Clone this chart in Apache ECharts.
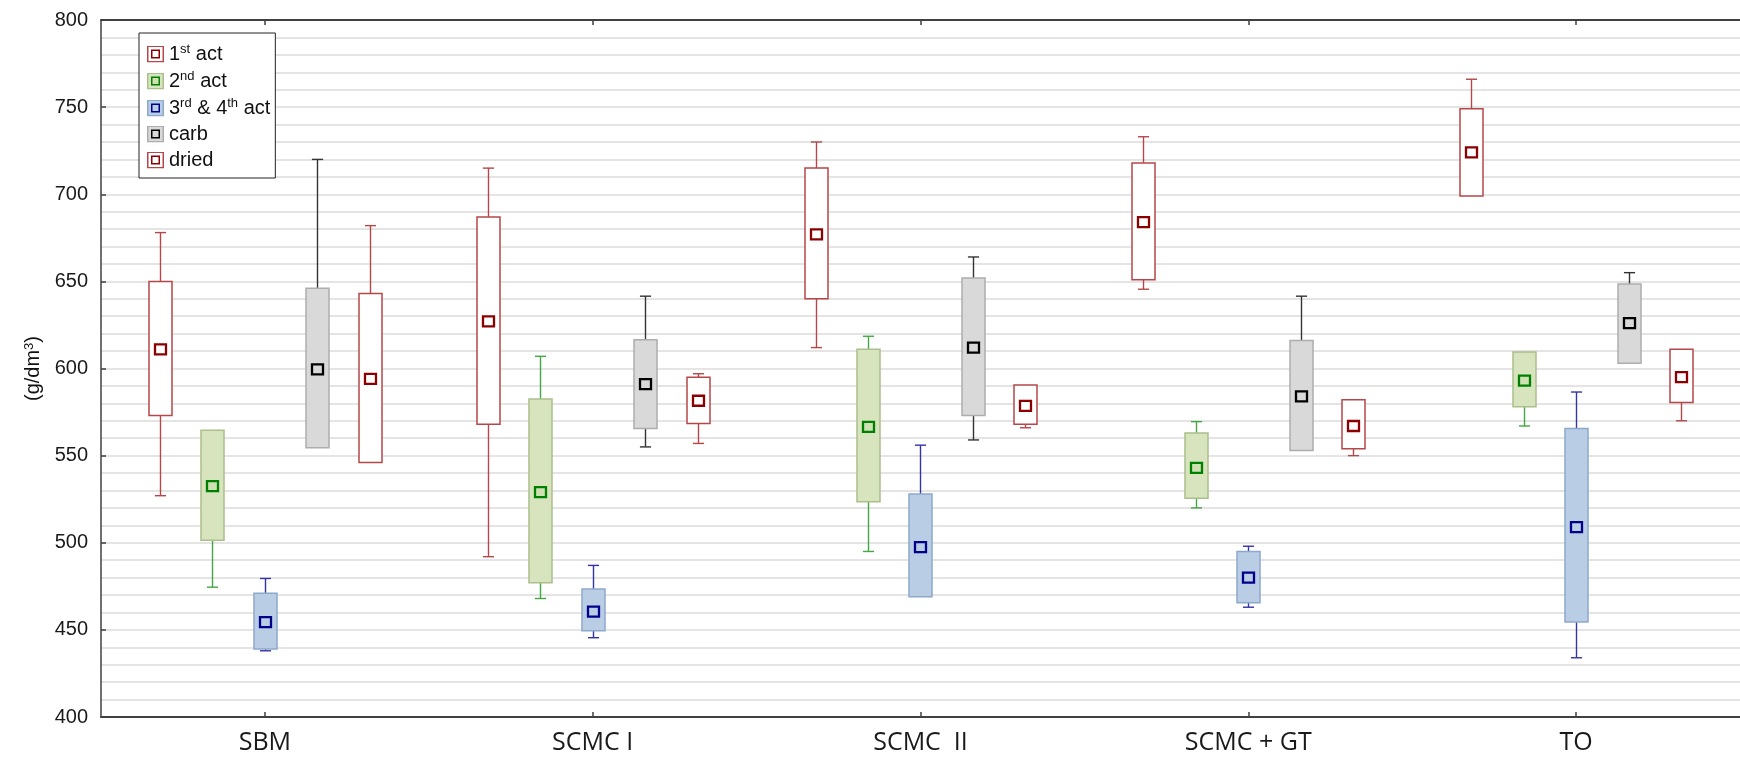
<!DOCTYPE html>
<html>
<head>
<meta charset="utf-8">
<script src="https://cdn.jsdelivr.net/npm/echarts@6/dist/echarts.min.js"></script>
<style>
html,body{margin:0;padding:0;background:#fff;}
#chart{width:1740px;height:765px;}
</style>
</head>
<body>
<div id="chart"></div>
<script>
// ---- data (each row: [lower whisker, box low, mean, box high, upper whisker]) ----
const categories = ['SBM', 'SCMC I', 'SCMC  II', 'SCMC + GT', 'TO'];
const seriesNames = ['1st act', '2nd act', '3rd & 4th act', 'carb', 'dried'];
const act1 = [
  [527, 573, 611, 650, 678],
  [492, 568, 627, 687, 715],
  [612, 640, 677, 715, 730],
  [645.5, 651, 684, 718, 733],
  [699, 699, 724, 749, 766]
];
const act2 = [
  [474.5, 501.5, 532.5, 564.5, 564.5],
  [468, 477, 529, 582.5, 607],
  [495, 523.5, 566.5, 611, 618.5],
  [520, 525.5, 543, 563, 569.5],
  [567, 578, 593, 609.5, 609.5]
];
const act34 = [
  [438, 439, 454.5, 471, 479.5],
  [445.5, 449.5, 460.5, 473.5, 487],
  [469, 469, 497.5, 528, 556],
  [463, 465.5, 480, 495, 498],
  [434, 454.5, 509, 565.5, 586.5]
];
const carb = [
  [554.5, 554.5, 599.5, 646, 720],
  [555, 565.5, 591, 616.5, 641.5],
  [559, 573, 612, 652, 664],
  [553, 553, 584, 616, 641.5],
  [603, 603, 626, 648.5, 655]
];
const dried = [
  [546, 546, 594, 643, 682],
  [557, 568.5, 581.5, 595, 597],
  [566, 568, 578.5, 590.5, 590.5],
  [550, 554, 567, 582, 582],
  [570, 580.5, 595, 611, 611]
];
const yTicks = {min: 400, max: 800, interval: 50};

// ---- styles ----
const allData = [act1, act2, act34, carb, dried];
const STYLES = [
  {fill: '#ffffff', stroke: '#b5474a', whisker: '#b5474a', mFill: '#ffffff', mStroke: '#8b0000'},
  {fill: '#d7e4bd', stroke: '#abbf8c', whisker: '#43a843', mFill: '#cfe0b2', mStroke: '#008000'},
  {fill: '#b9cde5', stroke: '#8ea8cc', whisker: '#3434a8', mFill: '#b9cde5', mStroke: '#00008b'},
  {fill: '#d9d9d9', stroke: '#adadad', whisker: '#333333', mFill: '#d9d9d9', mStroke: '#000000'},
  {fill: '#ffffff', stroke: '#b5474a', whisker: '#b5474a', mFill: '#ffffff', mStroke: '#8b0000'}
];
const OFFSETS = [-0.32, -0.16, 0, 0.16, 0.32];
const LEGEND_RICH = {
  '1st act': '{n|1}{s|st}{n| act}',
  '2nd act': '{n|2}{s|nd}{n| act}',
  '3rd & 4th act': '{n|3}{s|rd}{n| & 4}{s|th}{n| act}',
  'carb': '{n|carb}',
  'dried': '{n|dried}'
};
const FONT = 'Liberation Sans, Arial, sans-serif';

function iconFor(st) {
  const svg = '<svg xmlns="http://www.w3.org/2000/svg" width="17" height="17" viewBox="0 0 17 17">' +
    '<rect x="0.75" y="0.75" width="15.5" height="15.5" fill="' + st.fill + '" stroke="' + st.stroke + '" stroke-width="1.5"/>' +
    '<rect x="4.75" y="4.75" width="7.5" height="7.5" fill="' + st.mFill + '" stroke="' + st.mStroke + '" stroke-width="1.5"/>' +
    '</svg>';
  return 'image://data:image/svg+xml;charset=utf-8,' + encodeURIComponent(svg);
}

function makeRender(k) {
  const st = STYLES[k];
  return function (params, api) {
    const cat = api.value(0);
    const lo = api.value(1), q1 = api.value(2), m = api.value(3), q3 = api.value(4), hi = api.value(5);
    const bw = api.size([1, 0])[0];
    const cx = Math.round(api.coord([cat, m])[0] + OFFSETS[k] * bw) + 0.5;
    const yLo = api.coord([cat, lo])[1];
    const yQ1 = api.coord([cat, q1])[1];
    const yM = api.coord([cat, m])[1];
    const yQ3 = api.coord([cat, q3])[1];
    const yHi = api.coord([cat, hi])[1];
    const w = Math.round(bw * 0.07);
    const cap = bw * 0.034;
    const children = [];
    const wStyle = {stroke: st.whisker, lineWidth: 1.4};
    if (hi > q3) {
      children.push({type: 'line', shape: {x1: cx, y1: yHi, x2: cx, y2: yQ3}, style: wStyle});
      children.push({type: 'line', shape: {x1: cx - cap / 2, y1: yHi, x2: cx + cap / 2, y2: yHi}, style: wStyle});
    }
    if (lo < q1) {
      children.push({type: 'line', shape: {x1: cx, y1: yQ1, x2: cx, y2: yLo}, style: wStyle});
      children.push({type: 'line', shape: {x1: cx - cap / 2, y1: yLo, x2: cx + cap / 2, y2: yLo}, style: wStyle});
    }
    children.push({
      type: 'rect',
      shape: {x: cx - w / 2, y: yQ3, width: w, height: yQ1 - yQ3},
      style: {fill: st.fill, stroke: st.stroke, lineWidth: 1.5}
    });
    children.push({
      type: 'rect',
      shape: {x: cx - 5.5, y: yM - 5, width: 11, height: 10},
      style: {fill: st.mFill, stroke: st.mStroke, lineWidth: 2.3}
    });
    return {type: 'group', children: children};
  };
}

const series = allData.map(function (rows, k) {
  return {
    type: 'custom',
    name: seriesNames[k],
    renderItem: makeRender(k),
    encode: {x: 0, y: [1, 2, 3, 4, 5]},
    data: rows.map(function (r, i) { return [i].concat(r); }),
    z: 3
  };
});

const chart = echarts.init(document.getElementById('chart'), null, {renderer: 'canvas'});
chart.setOption({
  animation: false,
  backgroundColor: '#ffffff',
  grid: {left: 101, right: 0, top: 20, bottom: 48, containLabel: false},
  legend: {
    orient: 'vertical',
    left: 139,
    top: 33,
    padding: [10, 5, 8, 8],
    itemGap: 6,
    itemWidth: 17,
    itemHeight: 17,
    selectedMode: false,
    backgroundColor: '#ffffff',
    borderColor: '#222222',
    borderWidth: 1,
    z: 10,
    data: seriesNames.map(function (n, k) { return {name: n, icon: iconFor(STYLES[k])}; }),
    formatter: function (name) { return LEGEND_RICH[name]; },
    textStyle: {
      rich: {
        n: {fontFamily: FONT, fontSize: 20, color: '#111', lineHeight: 22, verticalAlign: 'middle'},
        s: {fontFamily: FONT, fontSize: 13, color: '#111', lineHeight: 13, verticalAlign: 'top'}
      }
    }
  },
  xAxis: [{
    type: 'category',
    data: categories,
    position: 'bottom',
    axisLine: {lineStyle: {color: '#404040', width: 2}},
    axisTick: {show: true, inside: true, alignWithLabel: true, length: 5, lineStyle: {color: '#404040', width: 1.5}},
    axisLabel: {fontFamily: 'Open Sans, sans-serif', fontSize: 25, color: '#1a1a1a', margin: 13},
    splitLine: {show: false}
  }, {
    type: 'category',
    data: categories,
    position: 'top',
    axisLine: {lineStyle: {color: '#404040', width: 2}},
    axisTick: {show: true, inside: true, alignWithLabel: true, length: 5, lineStyle: {color: '#404040', width: 1.5}},
    axisLabel: {show: false},
    splitLine: {show: false}
  }],
  yAxis: {
    type: 'value',
    min: yTicks.min,
    max: yTicks.max,
    interval: yTicks.interval,
    name: '{a|(g/dm}{s|3}{a|)}',
    nameLocation: 'middle',
    nameGap: 56,
    nameTextStyle: {
      rich: {
        a: {fontFamily: FONT, fontSize: 20, color: '#111', lineHeight: 22, verticalAlign: 'middle'},
        s: {fontFamily: FONT, fontSize: 13, color: '#111', lineHeight: 13, verticalAlign: 'top'}
      }
    },
    axisLine: {show: true, lineStyle: {color: '#404040', width: 1.5}},
    axisTick: {show: true, inside: true, length: 5, lineStyle: {color: '#404040', width: 1.5}},
    minorTick: {show: false, splitNumber: 5},
    axisLabel: {fontFamily: FONT, fontSize: 20, color: '#1a1a1a', margin: 13},
    splitLine: {show: true, lineStyle: {color: '#dcdcdc', width: 1.5}},
    minorSplitLine: {show: true, lineStyle: {color: '#dcdcdc', width: 1.5}}
  },
  series: series
});
</script>
</body>
</html>
